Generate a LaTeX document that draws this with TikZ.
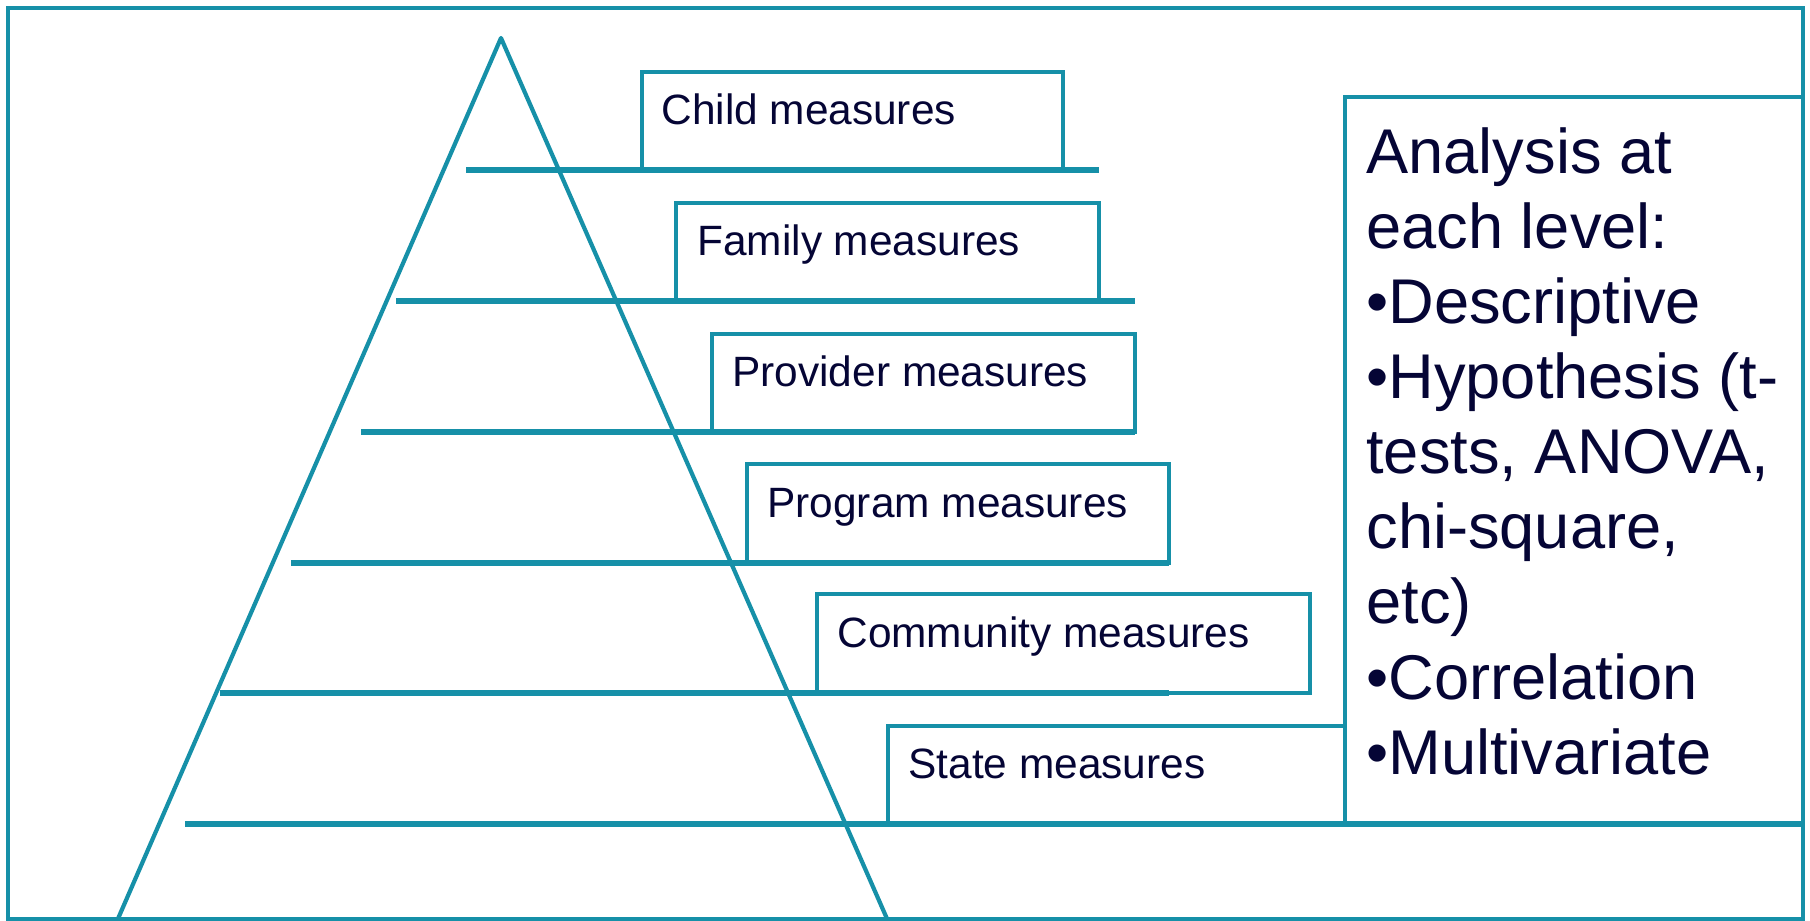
\documentclass[tikz,border=0pt]{standalone}
\usepackage{fontspec}
\setmainfont{Liberation Sans}
\definecolor{teal1}{HTML}{1690A8}
\definecolor{ink}{HTML}{050535}
\begin{document}
\begin{tikzpicture}[x=0.5pt,y=-0.5pt,
  line/.style={draw=teal1, line width=2.1pt},
  shelf/.style={draw=teal1, line width=2.6pt},
  lbl/.style={text=ink, font=\fontsize{21.2}{25}\selectfont, inner sep=0pt, anchor=base west},
  big/.style={text=ink, font=\fontsize{31.6}{37.5}\selectfont, inner sep=0pt, anchor=base west}]
\useasboundingbox (0,0) rectangle (1810,921);
% frame
\draw[line] (8,8) rectangle (1803,919);
% pyramid
\coordinate (apex) at (501,38);
\coordinate (bl) at (117,921);
\coordinate (br) at (888,921);
\draw[line, line join=round] (bl) -- (apex) -- (br);
% boxes
\draw[line] (642,170) rectangle (1063,72);
\draw[line] (676,301) rectangle (1099,203);
\draw[line] (712,432) rectangle (1135,334);
\draw[line] (747,563) rectangle (1169,464);
\draw[line] (817,693) rectangle (1310,594);
\draw[line] (888,824) rectangle (1345,726);
\draw[line] (1345,824) rectangle (1803,97);
% shelves
\draw[shelf] (466,170) -- (1099,170);
\draw[shelf] (396,301) -- (1135,301);
\draw[shelf] (361,432) -- (1135,432);
\draw[shelf] (291,563) -- (1169,563);
\draw[shelf] (220,693) -- (1169,693);
\draw[shelf] (185,824) -- (1803,824);
% labels
\node[lbl] (child) at (661,124) {Child measures};
\node[lbl] (family) at (697,255) {Family measures};
\node[lbl] (provider) at (732,386) {Provider measures};
\node[lbl] (program) at (767,517) {Program measures};
\node[lbl] (community) at (837,647) {Community measures};
\node[lbl] (state) at (908,778) {State measures};
% analysis text
\node[big] (a1) at (1366,173) {Analysis at};
\node[big] (a2) at (1366,248) {each level:};
\node[big] (a3) at (1366,323) {•Descriptive};
\node[big] (a4) at (1366,398) {•Hypothesis (t-};
\node[big] (a5) at (1366,473) {tests, ANOVA,};
\node[big] (a6) at (1366,548) {chi-square,};
\node[big] (a7) at (1366,623) {etc)};
\node[big] (a8) at (1366,699) {•Correlation};
\node[big] (a9) at (1366,774) {•Multivariate};
\end{tikzpicture}
\end{document}
